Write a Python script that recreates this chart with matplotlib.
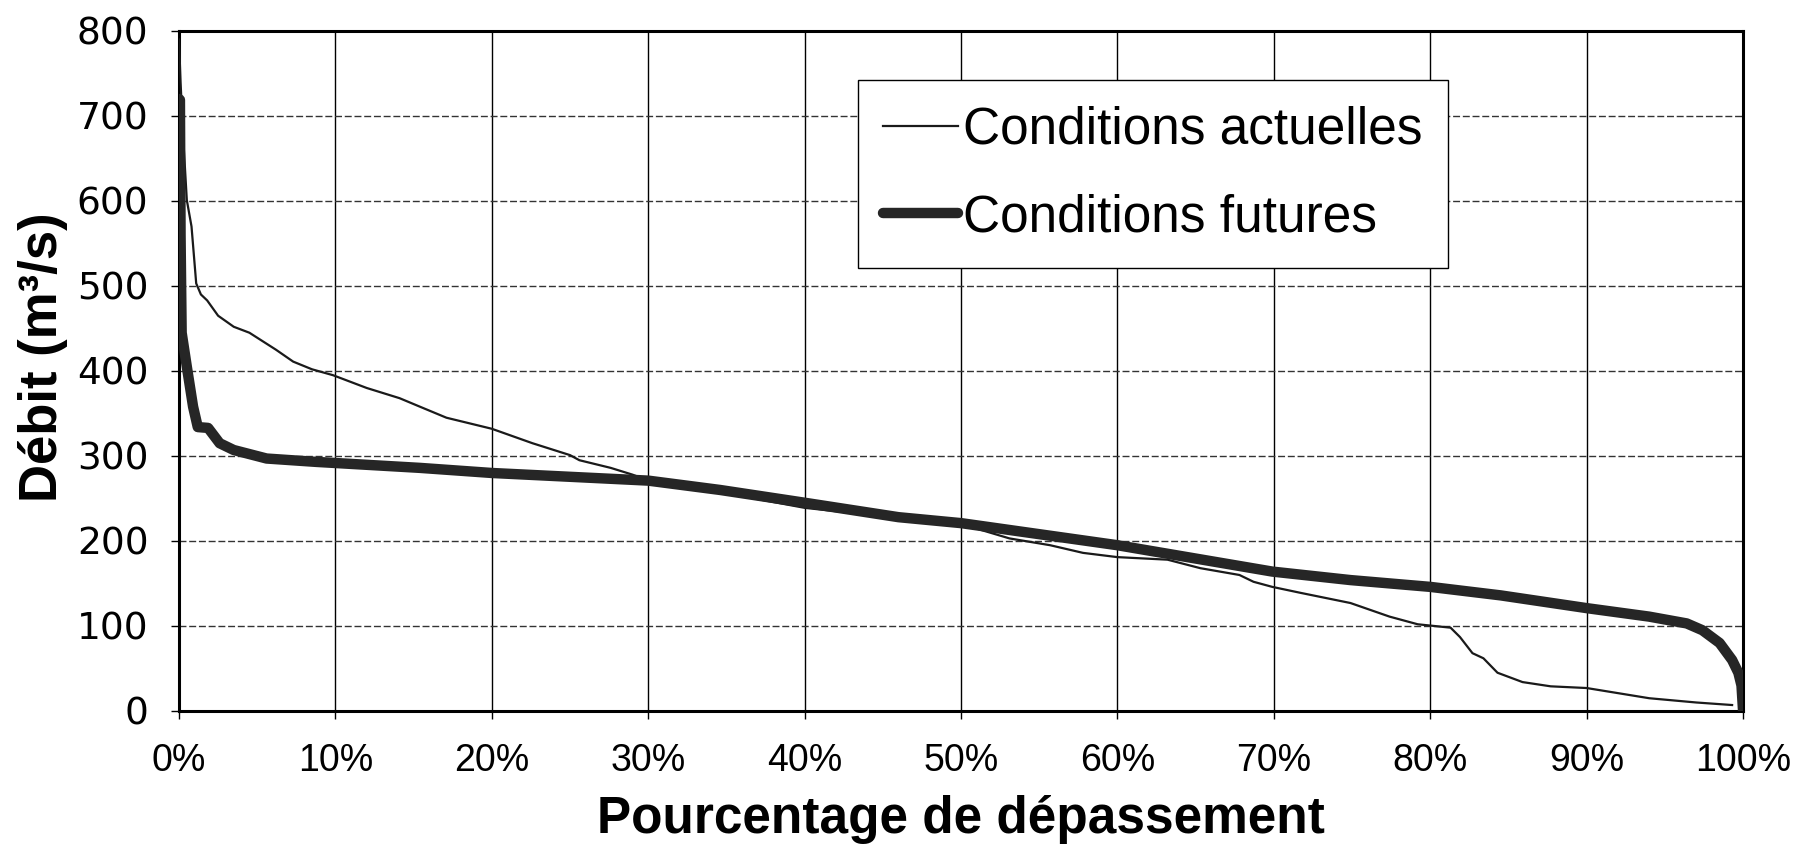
import numpy as np
import matplotlib
matplotlib.use('Agg')
import matplotlib.pyplot as plt
from matplotlib.ticker import FuncFormatter, MultipleLocator

# courbes des débits classés
actuel_pct = [0, 0.1, 0.25, 0.5, 0.8, 1.1, 1.4, 1.8, 2.5, 3.5, 4.5, 6.2, 7.3, 8.5, 9.85,
              12, 14.1, 15.4, 17.1, 20, 22.6, 25, 25.6, 27.6, 29, 30, 32.5, 35.6, 40, 45,
              50, 53.1, 55.7, 57.8, 60, 63.2, 65.3, 67.8, 68.7, 69.9, 71.7, 74.9, 77.4,
              79.2, 81.3, 81.9, 82.7, 83.4, 84.3, 85.9, 87.7, 90, 94, 97, 99.3]
actuel_debit = [790, 740, 680, 601, 570, 503, 490, 483, 465, 452, 445, 425, 411, 402, 395,
                380, 368, 358, 345, 332, 315, 301, 295, 286, 278, 271, 264, 254, 239, 229,
                220, 203, 195, 186, 181, 178, 168, 160, 152, 146, 139, 127, 111,
                102, 98, 87, 68, 62, 45, 34, 29, 27, 15, 10, 7]

futur_pct = [0, 0.06, 0.1, 0.17, 0.5, 0.9, 1.2, 1.86, 2.6, 3.5, 5.6, 8.8, 15.4, 20, 30,
             34.6, 40, 46, 50, 60, 69.9, 74.9, 80, 84.5, 90, 94, 96.4, 97.4, 98.5, 99.3,
             99.7, 99.9, 100]
futur_debit = [720, 719, 560, 445, 405, 358, 334, 333, 315, 307, 297, 293, 286, 280, 271,
               260, 245, 228, 221, 195, 164, 154, 146, 136, 121, 111, 103, 95, 80, 60,
               45, 30, 0]

plt.rcParams['font.family'] = ['Liberation Sans', 'DejaVu Sans']

fig = plt.figure(figsize=(17.99, 8.46), dpi=100)
ax = fig.add_axes([0.0995, 0.1596, 0.8694, 0.8038])

ax.plot(actuel_pct, actuel_debit, color='#1a1a1a', lw=1.6, label='Conditions actuelles',
        zorder=3)
ax.plot(futur_pct, futur_debit, color='#262626', lw=7.5, label='Conditions futures',
        solid_capstyle='round', zorder=4)

ax.set_xlim(0, 100)
ax.set_ylim(0, 800)
ax.xaxis.set_major_locator(MultipleLocator(10))
ax.yaxis.set_major_locator(MultipleLocator(100))
ax.xaxis.set_major_formatter(FuncFormatter(lambda v, p: f'{v:.0f}%'))

ax.grid(axis='x', color='black', lw=1, ls='-')
ax.grid(axis='y', color='#333333', lw=1, ls=(0, (5, 2)))
ax.set_axisbelow(True)

for s in ax.spines.values():
    s.set_linewidth(2.2)
ax.tick_params(axis='x', direction='out', length=6, width=1, pad=17, labelsize=27)
ax.tick_params(axis='y', direction='out', length=6, width=1, pad=16, labelsize=27)
for t in ax.get_yticklabels():
    t.set_fontfamily('DejaVu Sans')

ax.set_xlabel('Pourcentage de dépassement', fontsize=37, fontweight='bold', va='center')
ax.xaxis.set_label_coords(0.5, -0.16)
ax.set_ylabel('Débit (m³/s)', fontsize=38, fontweight='bold', va='center')
ax.yaxis.set_label_coords(-0.087, 0.52)

leg = ax.legend(loc='upper left', bbox_to_anchor=(0.434, 0.928), fontsize=37,
                frameon=True, fancybox=False, edgecolor='black', framealpha=1,
                borderaxespad=0, borderpad=0.5, handlelength=1.45, handletextpad=0.1,
                labelspacing=0.75)
leg.get_frame().set_linewidth(1)

fig.savefig('out.png', dpi=100, facecolor='white')
